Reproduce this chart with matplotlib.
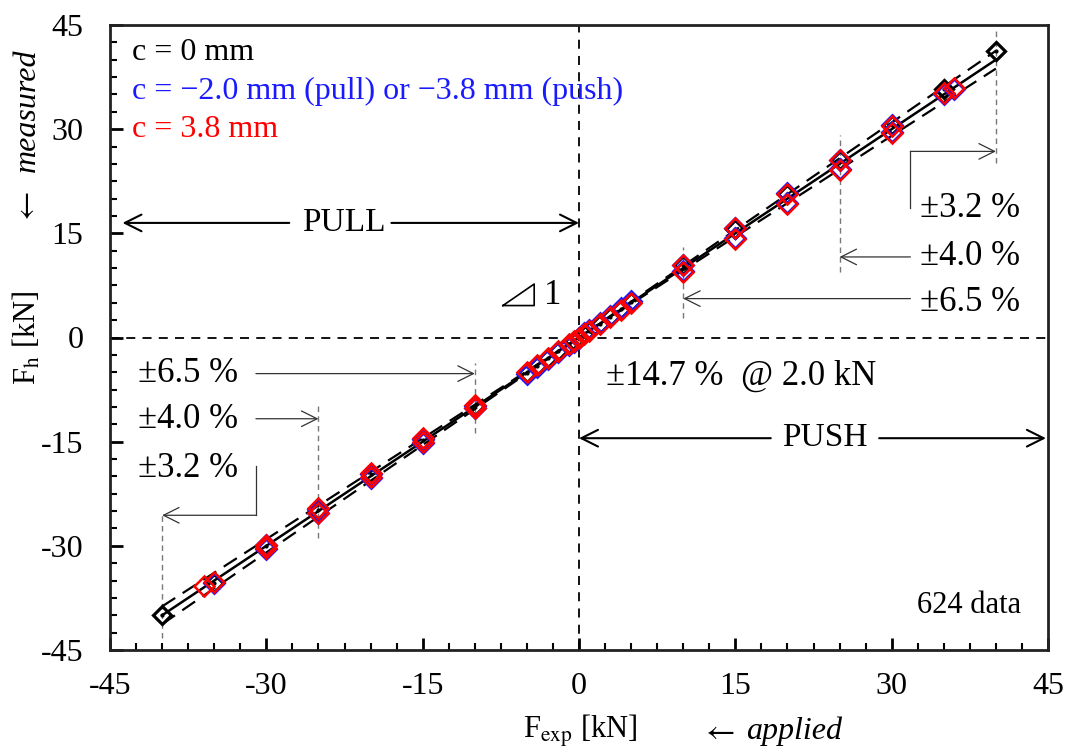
import numpy as np
import matplotlib
matplotlib.use("Agg")
import matplotlib.pyplot as plt
from matplotlib.ticker import MultipleLocator

plt.rcParams["font.family"] = ["Liberation Serif", "DejaVu Serif"]
plt.rcParams["mathtext.fontset"] = "stix"
plt.rcParams["axes.unicode_minus"] = False

# ---- measured vs applied load, three eccentricities ----
core_x = [-5, -4, -3, -2, -1, -0.5, 0, 0.5, 1, 2, 3, 4, 5]

black_x = [-40, -35, -30, -25, -20, -15, -10] + core_x + [10, 15, 20, 25, 30, 35, 40]
black_y = [-40.0, -35.4, -30.0, -24.8, -19.7, -14.8, -9.8,
           -5.1, -4.1, -3.0, -2.0, -1.0, -0.5, 0.0, 0.5, 1.0, 2.0, 3.0, 4.1, 5.1,
           10.4, 15.6, 20.6, 25.5, 30.6, 35.8, 41.2]

blue_x = [-35, -30, -30, -25, -25, -20, -20, -15, -15, -10, -10] + core_x + \
         [10, 10, 15, 15, 20, 20, 25, 25, 30, 30, 35, 36]
blue_y = [-35.3, -29.9, -30.4, -24.7, -25.3, -19.6, -20.3, -14.6, -15.2, -9.8, -10.2,
          -5.2, -4.2, -3.1, -2.1, -1.1, -0.6, 0.0, 0.6, 1.1, 2.1, 3.1, 4.2, 5.2,
          10.5, 9.6, 15.8, 14.3, 20.8, 19.3, 25.6, 24.3, 30.6, 29.6, 35.1, 35.8]

red_x = [-36, -35, -30, -30, -25, -25, -20, -20, -15, -15, -10, -10] + core_x + \
        [10, 10, 15, 15, 20, 20, 25, 25, 30, 30, 35, 36]
red_y = [-35.8, -35.2, -29.9, -30.3, -24.6, -25.2, -19.5, -20.1, -14.5, -15.0, -9.7, -10.1,
         -5.0, -4.0, -3.0, -2.0, -1.0, -0.5, 0.0, 0.5, 1.0, 2.0, 3.0, 4.0, 5.0,
         10.4, 9.5, 15.8, 14.2, 20.7, 19.2, 25.5, 24.1, 30.4, 29.5, 35.2, 36.0]

tick_values = [-45, -30, -15, 0, 15, 30, 45]
band = 0.032          # relative error band drawn with dashed lines
legend_lines = ["c = 0 mm", "c = \u22122.0 mm (pull) or \u22123.8 mm (push)", "c = 3.8 mm"]
legend_colors = ["black", "#1a1aff", "#ff0000"]

fig = plt.figure(figsize=(10.67, 7.51), dpi=100)
ax = fig.add_axes([110 / 1067, 1 - 650 / 751, 938 / 1067, 625 / 751])
ax.set_xlim(-45, 45)
ax.set_ylim(-45, 45)

# reference lines
ax.axhline(0, color="black", lw=1.3, ls=(0, (5, 4)), zorder=1)
ax.axvline(0, color="black", lw=1.3, ls=(0, (5, 4)), zorder=1)

xl = np.array([-40, 40])
ax.plot(xl, xl, color="black", lw=1.8, zorder=2)
ax.plot(xl, xl * (1 + band), color="black", lw=1.6, ls=(0, (7, 4)), zorder=2)
ax.plot(xl, xl * (1 - band), color="black", lw=1.6, ls=(0, (7, 4)), zorder=2)

# data
ax.plot(black_x, black_y, ls="none", marker="D", ms=9, mfc="none", mec="black", mew=2.3, zorder=3)
ax.plot(black_x, black_y, ls="none", marker="o", ms=2, mfc="black", mec="black", zorder=3)
ax.plot(blue_x, blue_y, ls="none", marker="D", ms=10.5, mfc="none", mec="#1a1aff", mew=2.0, zorder=4)
ax.plot(red_x, red_y, ls="none", marker="D", ms=10, mfc="none", mec="#ff0000", mew=1.8, zorder=5)

# error-band guide lines
guide = dict(color="#777777", lw=1.0, ls=(0, (4, 3)), zorder=1)
for gx, y0, y1 in [(40, 25.1, 44.3), (25, 9.4, 29.2), (10, 2.8, 13.0),
                   (-10, -13.8, -3.6), (-25, -28.9, -9.6), (-40, -43.2, -25.2)]:
    ax.plot([gx, gx], [y0, y1], **guide)

arrow_thin = dict(arrowstyle="->", color="#333333", lw=0.9, mutation_scale=28, shrinkA=0, shrinkB=0)
fs_big = 25

# right side annotations
ax.plot([31.8, 31.8], [18.6, 26.8], color="#333333", lw=0.9)
ax.annotate("", xy=(40, 26.8), xytext=(31.8, 26.8), arrowprops=arrow_thin)
ax.text(32.7, 18.6, "\u00b13.2 %", fontsize=fs_big, va="center", ha="left")
ax.annotate("", xy=(25, 11.6), xytext=(31.8, 11.6), arrowprops=arrow_thin)
ax.text(32.7, 11.6, "\u00b14.0 %", fontsize=fs_big, va="center", ha="left")
ax.annotate("", xy=(10, 5.6), xytext=(31.8, 5.6), arrowprops=arrow_thin)
ax.text(32.7, 5.0, "\u00b16.5 %", fontsize=fs_big, va="center", ha="left")

# left side annotations
ax.text(-42.3, -5.2, "\u00b16.5 %", fontsize=fs_big, va="center", ha="left")
ax.annotate("", xy=(-10, -5.2), xytext=(-31.0, -5.2), arrowprops=arrow_thin)
ax.text(-42.3, -11.8, "\u00b14.0 %", fontsize=fs_big, va="center", ha="left")
ax.annotate("", xy=(-25, -11.7), xytext=(-31.0, -11.7), arrowprops=arrow_thin)
ax.text(-42.3, -18.9, "\u00b13.2 %", fontsize=fs_big, va="center", ha="left")
ax.plot([-31.0, -31.0], [-18.5, -25.6], color="#333333", lw=0.9)
ax.annotate("", xy=(-40, -25.6), xytext=(-31.0, -25.6), arrowprops=arrow_thin)

# PULL / PUSH ranges
arrow_bold = dict(arrowstyle="->", color="black", lw=1.5, mutation_scale=30, shrinkA=0, shrinkB=0)
ax.annotate("", xy=(-43.8, 16.5), xytext=(-27.8, 16.5), arrowprops=arrow_bold)
ax.annotate("", xy=(0, 16.5), xytext=(-18.0, 16.5), arrowprops=arrow_bold)
ax.text(-22.6, 16.5, "PULL", fontsize=24, ha="center", va="center")
ax.annotate("", xy=(0, -14.5), xytext=(18.4, -14.5), arrowprops=arrow_bold)
ax.annotate("", xy=(44.8, -14.5), xytext=(28.8, -14.5), arrowprops=arrow_bold)
ax.text(23.6, -14.5, "PUSH", fontsize=24, ha="center", va="center")

ax.text(2.6, -5.6, "\u00b114.7 %  @ 2.0 kN", fontsize=fs_big, ha="left", va="center")
ax.text(42.4, -38.6, "624 data", fontsize=22, ha="right", va="center")

# slope triangle
ax.plot([-7.3, -4.3, -4.3, -7.3], [4.6, 4.6, 7.7, 4.6], color="black", lw=1.2)
ax.text(-3.4, 6.0, "1", fontsize=fs_big, ha="left", va="center")

# legend as coloured text
for i, (txt, col) in enumerate(zip(legend_lines, legend_colors)):
    ax.text(-42.9, 41.1 - 5.6 * i, txt, color=col, fontsize=23, ha="left", va="center")

# axes styling
ax.set_xticks(tick_values)
ax.set_yticks(tick_values)
ax.xaxis.set_minor_locator(MultipleLocator(2.5))
ax.yaxis.set_minor_locator(MultipleLocator(2.5))
ax.tick_params(which="major", direction="in", length=9, width=2, labelsize=23)
ax.tick_params(which="minor", direction="in", length=5, width=1.5)
ax.tick_params(axis="x", which="major", pad=16)
ax.tick_params(axis="y", which="major", pad=19)
for s in ax.spines.values():
    s.set_linewidth(2)
    s.set_color("#222222")

fig.text(27 / 1067, 1 - 338 / 751, "F$_{\\rm h}$ [kN]", rotation=90, fontsize=22,
         ha="center", va="center")
fig.text(27 / 1067, 1 - 208 / 751, "$\\leftarrow$", rotation=90, fontsize=23,
         ha="center", va="center")
fig.text(27 / 1067, 1 - 110 / 751, "measured", rotation=90, fontsize=23, ha="center",
         va="center", style="italic")
fig.text(580 / 1067, 1 - 731 / 751, "F$_{\\rm exp}$ [kN]", fontsize=22, ha="center", va="center")
fig.text(718 / 1067, 1 - 732 / 751, "$\\leftarrow$", fontsize=23, ha="center", va="center")
fig.text(746 / 1067, 1 - 731 / 751, "applied", fontsize=23, ha="left", va="center", style="italic")

fig.savefig("out.png", dpi=100)
